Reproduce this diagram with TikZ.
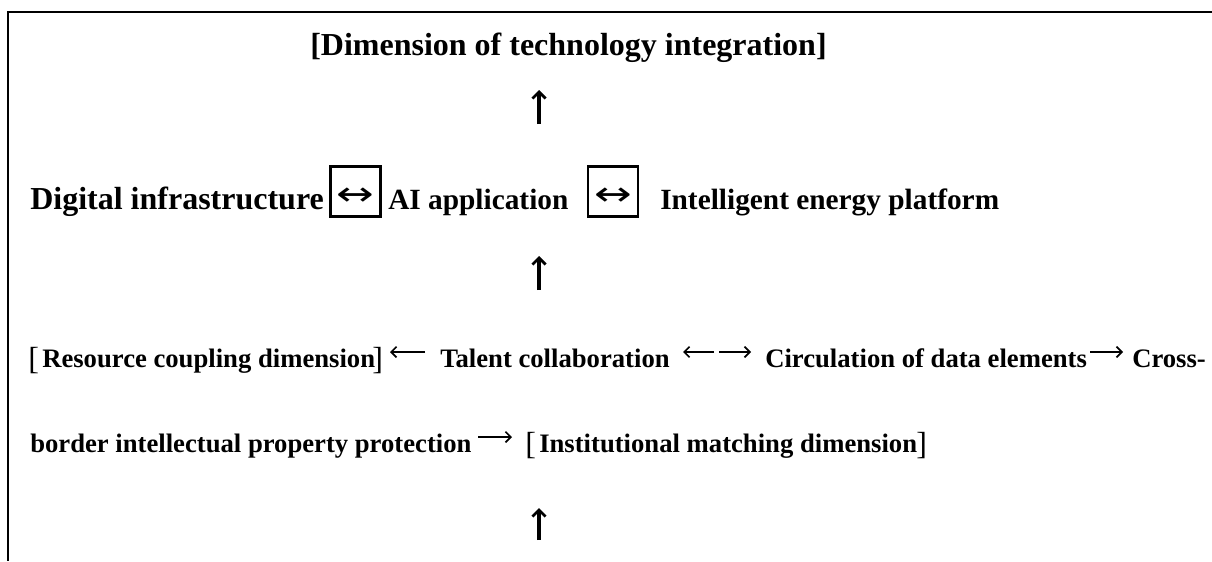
\documentclass[tikz,border=0pt]{standalone}
\usepackage{fontspec}
\usepackage{graphicx}
\setmainfont{Liberation Serif}
\newfontfamily\arrowfont{DejaVu Sans}
\usetikzlibrary{arrows.meta}
\begin{document}
\begin{tikzpicture}[x=0.75pt,y=-0.75pt,
  big/.style={font=\fontsize{24}{28}\selectfont\bfseries, inner sep=0pt, anchor=base west},
  med/.style={font=\fontsize{22}{26}\selectfont\bfseries, inner sep=0pt, anchor=base west},
  mid/.style={font=\fontsize{20}{24}\selectfont\bfseries, inner sep=0pt, anchor=base west},
  brk/.style={font=\fontsize{24}{26}\selectfont, inner sep=0pt, anchor=base west},
  arrbox/.style={draw, line width=2.2pt, minimum width=37.5pt, minimum height=37.5pt, inner sep=0pt,
    text height=0pt, text depth=0pt, font=\arrowfont\fontsize{25}{26}\selectfont},
  uparr/.style={line width=2.4pt, -{Straight Barb[length=5pt,width=10pt,line width=2pt]}},
  inarr/.style={line width=1.4pt, -{Straight Barb[length=4pt,width=8pt,line width=1.3pt]}},
  frame/.style={line width=1.1pt}
]
\useasboundingbox (0,0) rectangle (1212,561);
\draw[frame] (1212,12) -- (8,12) -- (8,561);

\node[big] (title) at (310,55) {[Dimension of technology integration]};

\coordinate (u1s) at (539,124); \coordinate (u1e) at (539,90);
\draw[uparr] (u1s) -- (u1e);

\node[big] (di) at (30,209) {Digital infrastructure};
\node[arrbox] (b1) at (355.5,191.5) {\raisebox{-10.6pt}{\scalebox{1.35}[1]{↔}}};
\node[med] (ai) at (388,209) {AI application};
\node[arrbox] (b2) at (613,191.5) {\raisebox{-10.6pt}{\scalebox{1.35}[1]{↔}}};
\node[med] (iep) at (660,209) {Intelligent energy platform};

\coordinate (u2s) at (539,290); \coordinate (u2e) at (539,256);
\draw[uparr] (u2s) -- (u2e);

\node[brk] (lb1) at (28,369) {[};
\node[mid] (rc) at (42,367) {Resource coupling dimension};
\node[brk] (rb1) at (372,369) {]};
\node[mid] (tc) at (440,367) {Talent collaboration};
\node[mid] (cd) at (765,367) {Circulation of data elements};
\node[mid] (cb) at (1132,367) {Cross-};

\coordinate (a1s) at (425,352); \coordinate (a1e) at (390,352);
\draw[inarr] (a1s) -- (a1e);
\coordinate (a2m1) at (714,352); \coordinate (a2l) at (683,352);
\draw[inarr] (a2m1) -- (a2l);
\coordinate (a2m2) at (719,352); \coordinate (a2r) at (751,352);
\draw[inarr] (a2m2) -- (a2r);
\coordinate (a3s) at (1090,352); \coordinate (a3e) at (1123,352);
\draw[inarr] (a3s) -- (a3e);

\node[mid] (ip) at (30,452) {border intellectual property protection};
\node[brk] (lb2) at (525,454) {[};
\node[mid] (im) at (539,452) {Institutional matching dimension};
\node[brk] (rb2) at (916,454) {]};

\coordinate (a4s) at (478,437); \coordinate (a4e) at (512,437);
\draw[inarr] (a4s) -- (a4e);

\coordinate (u3s) at (539,540); \coordinate (u3e) at (539,508);
\draw[uparr] (u3s) -- (u3e);
\end{tikzpicture}
\end{document}
